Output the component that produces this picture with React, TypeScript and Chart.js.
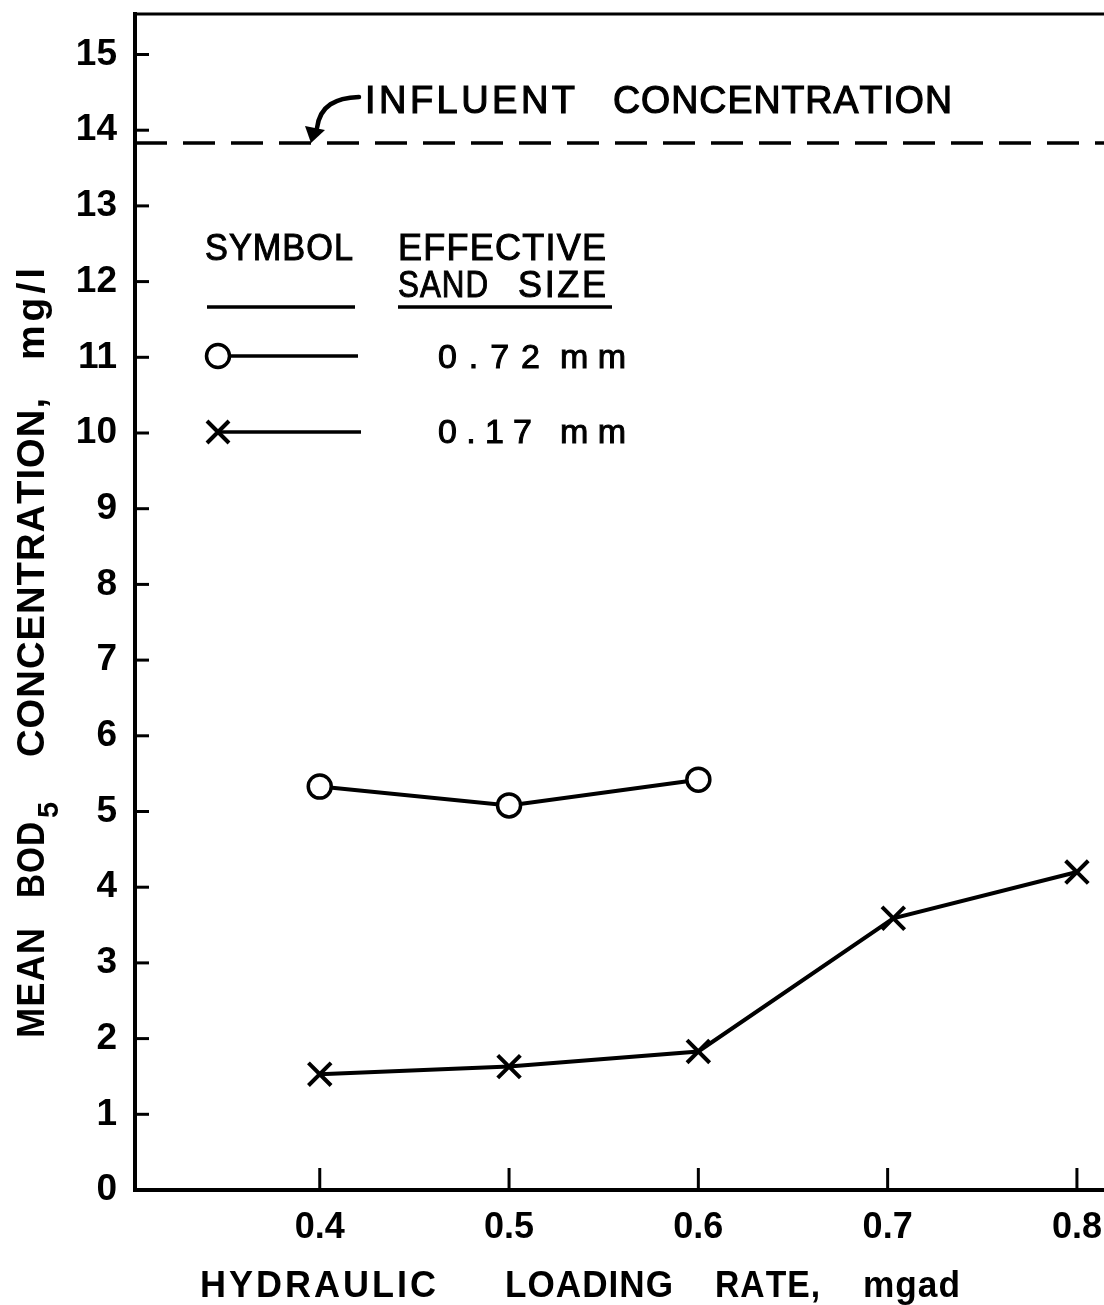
import React, { useEffect, useRef } from "react";
import { Chart, registerables } from "chart.js";

Chart.register(...registerables);

// ---------------- data ----------------
const SAND_072_X = [0.4, 0.5, 0.6];
const SAND_072_Y = [5.33, 5.08, 5.42];
const SAND_017_X = [0.4, 0.5, 0.6, 0.703, 0.8];
const SAND_017_Y = [1.53, 1.63, 1.83, 3.59, 4.2];
const INFLUENT = 13.83;
const X_TICKS = [0.4, 0.5, 0.6, 0.7, 0.8];
const Y_TICKS = [0, 1, 2, 3, 4, 5, 6, 7, 8, 9, 10, 11, 12, 13, 14, 15];
const X_MIN = 0.3024;
const X_MAX = 0.8143;
const Y_MIN = 0;
const Y_MAX = 15.535;
const SERIES_LABELS = ["0.72 mm", "0.17 mm"];
const LEGEND_HEAD_LEFT = "SYMBOL";
const LEGEND_HEAD_RIGHT = ["EFFECTIVE", "SAND SIZE"];
const ANNOTATION = ["INFLUENT", "CONCENTRATION"];
const X_TITLE = ["HYDRAULIC", "LOADING", "RATE,", "mgad"];
const Y_TITLE = ["MEAN", "BOD", "5", "CONCENTRATION,", "mg/l"];

const FONT = '"Liberation Sans", Arial, sans-serif';

// draws text spread (or compressed) to fill [x0, x1]
function spaced(
  ctx: CanvasRenderingContext2D,
  text: string,
  x0: number,
  x1: number,
  y: number,
  thicken = 0
) {
  const chars = Array.from(text);
  const widths = chars.map((c) => ctx.measureText(c).width);
  const total = widths.reduce((a, b) => a + b, 0);
  const n = chars.length;
  const minGap = 1;
  let sx = 1;
  let gap = n > 1 ? (x1 - x0 - total) / (n - 1) : 0;
  if (n > 1 && gap < minGap) {
    gap = minGap;
    sx = (x1 - x0 - minGap * (n - 1)) / total;
  }
  let x = x0;
  ctx.textAlign = "left";
  chars.forEach((c, i) => {
    ctx.save();
    ctx.translate(x, y);
    ctx.scale(sx, 1);
    ctx.fillText(c, 0, 0);
    if (thicken > 0) {
      ctx.lineWidth = thicken;
      ctx.strokeText(c, 0, 0);
    }
    ctx.restore();
    x += widths[i] * sx + gap;
  });
}

const decorPlugin = {
  id: "decor",
  afterDraw(chart: any) {
    const ctx: CanvasRenderingContext2D = chart.ctx;
    const { left, right, top, bottom } = chart.chartArea;
    const xs = chart.scales.x;
    const ys = chart.scales.y;
    ctx.save();
    ctx.strokeStyle = "#000";
    ctx.fillStyle = "#000";
    ctx.lineCap = "butt";

    // top frame line
    ctx.lineWidth = 3;
    ctx.beginPath();
    ctx.moveTo(left - 2, top);
    ctx.lineTo(right, top);
    ctx.stroke();

    // inward ticks
    ctx.lineWidth = 3;
    Y_TICKS.forEach((v) => {
      if (v === 0) return;
      const y = ys.getPixelForValue(v);
      ctx.beginPath();
      ctx.moveTo(left, y);
      ctx.lineTo(left + 14, y);
      ctx.stroke();
    });
    X_TICKS.forEach((v) => {
      const x = xs.getPixelForValue(v);
      ctx.beginPath();
      ctx.moveTo(x, bottom);
      ctx.lineTo(x, bottom - 22);
      ctx.stroke();
    });

    // annotation
    ctx.font = `38px ${FONT}`;
    ctx.textBaseline = "alphabetic";
    spaced(ctx, ANNOTATION[0], 365, 575, 113, 1.2);
    spaced(ctx, ANNOTATION[1], 613, 952, 113, 1.2);
    const tipY = ys.getPixelForValue(INFLUENT);
    ctx.lineWidth = 4.5;
    ctx.lineCap = "round";
    ctx.beginPath();
    ctx.moveTo(359, 97);
    ctx.bezierCurveTo(336, 98, 320, 105, 317, 128);
    ctx.stroke();
    ctx.lineCap = "butt";
    ctx.beginPath();
    ctx.moveTo(305, 126);
    ctx.lineTo(325, 130);
    ctx.lineTo(311, tipY);
    ctx.closePath();
    ctx.fill();

    // legend header
    ctx.font = `36px ${FONT}`;
    spaced(ctx, LEGEND_HEAD_LEFT, 205, 353, 260, 1);
    spaced(ctx, LEGEND_HEAD_RIGHT[0], 398, 606, 260, 1);
    const sandParts = LEGEND_HEAD_RIGHT[1].split(" ");
    spaced(ctx, sandParts[0], 398, 488, 297, 1);
    spaced(ctx, sandParts[1], 518, 606, 297, 1);
    ctx.lineWidth = 3.5;
    ctx.beginPath();
    ctx.moveTo(207, 307);
    ctx.lineTo(355, 307);
    ctx.moveTo(398, 307);
    ctx.lineTo(612, 307);
    ctx.stroke();

    // legend rows
    const rows = [356, 432];
    ctx.lineWidth = 3.5;
    ctx.beginPath();
    ctx.moveTo(218, rows[0]);
    ctx.lineTo(358, rows[0]);
    ctx.stroke();
    ctx.beginPath();
    ctx.arc(218, rows[0], 11.5, 0, Math.PI * 2);
    ctx.fillStyle = "#fff";
    ctx.fill();
    ctx.stroke();
    ctx.fillStyle = "#000";
    ctx.beginPath();
    ctx.moveTo(218, rows[1]);
    ctx.lineTo(361, rows[1]);
    ctx.stroke();
    ctx.lineWidth = 4;
    const d = 11;
    ctx.beginPath();
    ctx.moveTo(218 - d, rows[1] - d);
    ctx.lineTo(218 + d, rows[1] + d);
    ctx.moveTo(218 + d, rows[1] - d);
    ctx.lineTo(218 - d, rows[1] + d);
    ctx.stroke();

    ctx.font = `34px ${FONT}`;
    const p1 = SERIES_LABELS[0].split(" ");
    const p2 = SERIES_LABELS[1].split(" ");
    spaced(ctx, p1[0], 438, 540, 368, 1);
    spaced(ctx, p1[1], 560, 626, 368, 1);
    spaced(ctx, p2[0], 438, 532, 443, 1);
    spaced(ctx, p2[1], 560, 626, 443, 1);

    // x title
    ctx.font = `bold 36px ${FONT}`;
    spaced(ctx, X_TITLE[0], 200, 436, 1297);
    spaced(ctx, X_TITLE[1], 505, 673, 1297);
    spaced(ctx, X_TITLE[2], 715, 820, 1297);
    spaced(ctx, X_TITLE[3], 863, 960, 1297);

    // y title (rotated)
    ctx.save();
    ctx.translate(44, 0);
    ctx.rotate(-Math.PI / 2);
    ctx.font = `bold 39px ${FONT}`;
    spaced(ctx, Y_TITLE[0], -1038, -928, 0);
    spaced(ctx, Y_TITLE[1], -898, -822, 0);
    ctx.font = `bold 29px ${FONT}`;
    spaced(ctx, Y_TITLE[2], -818, -798, 14);
    ctx.font = `bold 39px ${FONT}`;
    spaced(ctx, Y_TITLE[3], -757, -398, 0);
    spaced(ctx, Y_TITLE[4], -360, -268, 0);
    ctx.restore();

    ctx.restore();
  },
};

const zeroPadding = (s: any) => {
  s.paddingTop = 0;
  s.paddingBottom = 0;
  s.paddingLeft = 0;
  s.paddingRight = 0;
};

export default function App() {
  const ref = useRef<HTMLCanvasElement | null>(null);

  useEffect(() => {
    if (!ref.current) return;
    const chart = new Chart(ref.current, {
      type: "line",
      data: {
        datasets: [
          {
            label: "Influent concentration",
            data: [
              { x: X_MIN, y: INFLUENT },
              { x: X_MAX, y: INFLUENT },
            ],
            borderColor: "#000",
            borderWidth: 3.5,
            borderDash: [32, 16],
            pointRadius: 0,
            tension: 0,
          },
          {
            label: SERIES_LABELS[0],
            data: SAND_072_X.map((x, i) => ({ x, y: SAND_072_Y[i] })),
            borderColor: "#000",
            borderWidth: 4,
            pointStyle: "circle",
            pointRadius: 11.5,
            pointBorderWidth: 3.5,
            pointBackgroundColor: "#fff",
            pointBorderColor: "#000",
            tension: 0,
          },
          {
            label: SERIES_LABELS[1],
            data: SAND_017_X.map((x, i) => ({ x, y: SAND_017_Y[i] })),
            borderColor: "#000",
            borderWidth: 4,
            pointStyle: "crossRot",
            pointRadius: 16,
            pointBorderWidth: 4,
            pointBorderColor: "#000",
            tension: 0,
          },
        ],
      },
      options: {
        animation: false,
        responsive: false,
        devicePixelRatio: 1,
        layout: { autoPadding: false, padding: { top: 14, right: 0, left: 0, bottom: 0 } },
        plugins: {
          legend: { display: false },
          tooltip: { enabled: false },
        },
        scales: {
          x: {
            type: "linear",
            min: X_MIN,
            max: X_MAX,
            afterBuildTicks: (s: any) => {
              s.ticks = X_TICKS.map((v) => ({ value: v }));
            },
            afterFit: (s: any) => {
              s.height = 115;
              zeroPadding(s);
            },
            grid: { display: false, drawTicks: false },
            border: { display: true, width: 4, color: "#000" },
            ticks: {
              color: "#000",
              padding: 16,
              maxRotation: 0,
              autoSkip: false,
              font: { family: FONT, size: 36, weight: "bold" },
              callback: (v: any) => Number(v).toFixed(1),
            },
          },
          y: {
            type: "linear",
            min: Y_MIN,
            max: Y_MAX,
            afterBuildTicks: (s: any) => {
              s.ticks = Y_TICKS.map((v) => ({ value: v }));
            },
            afterFit: (s: any) => {
              s.width = 135;
              zeroPadding(s);
            },
            grid: { display: false, drawTicks: false },
            border: { display: true, width: 4, color: "#000" },
            ticks: {
              color: "#000",
              padding: 18,
              autoSkip: false,
              font: { family: FONT, size: 37, weight: "bold" },
              callback: (v: any) => String(v),
            },
          },
        },
      },
      plugins: [decorPlugin],
    });
    return () => chart.destroy();
  }, []);

  return (
    <div
      style={{
        position: "absolute",
        left: 0,
        top: 0,
        width: 1104,
        height: 1305,
        background: "#fff",
      }}
    >
      <canvas ref={ref} width={1104} height={1305} style={{ display: "block" }} />
    </div>
  );
}
